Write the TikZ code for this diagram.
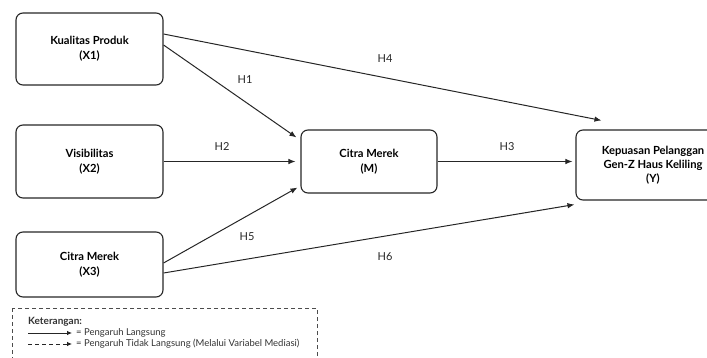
\documentclass[tikz,border=0pt]{standalone}
\usepackage{fontspec}
\setmainfont{Lato}
\usetikzlibrary{arrows.meta}

\begin{document}
\begin{tikzpicture}[x=1pt,y=-1pt,
    varbox/.style={draw=black!85,line width=1.1pt,rounded corners=7pt,align=center,
      inner sep=0pt,font=\fontsize{11.2}{15}\selectfont\bfseries},
    link/.style={draw=black!85,line width=1pt,-{Latex[length=7pt,width=5.5pt]}},
    hlabel/.style={font=\fontsize{11}{12}\selectfont,text=black!85},
    legendtext/.style={anchor=west,inner sep=0pt,font=\fontsize{9.5}{11}\selectfont,text=black!80}]

  \useasboundingbox (0,0) rectangle (707,358);
  \clip (0,0) rectangle (707,358);

  % Independent variables
  \node[varbox,minimum width=147pt,minimum height=72pt] (x1) at (89.5,49)    {Kualitas Produk\\(X1)};
  \node[varbox,minimum width=147pt,minimum height=73pt] (x2) at (89.5,161.5) {Visibilitas\\(X2)};
  \node[varbox,minimum width=147pt,minimum height=65pt] (x3) at (89.5,264.5) {Citra Merek\\(X3)};

  % Mediator
  \node[varbox,minimum width=136pt,minimum height=63pt] (m) at (369,161.5) {Citra Merek\\(M)};

  % Dependent variable
  \node[varbox,minimum width=154pt,minimum height=70pt,font=\fontsize{11.2}{14}\selectfont\bfseries] (y) at (653,165)
    {Kepuasan Pelanggan\\Gen-Z Haus Keliling\\(Y)};

  % Arrow end points
  \coordinate (x1a) at ([yshift=15pt]x1.east);
  \coordinate (x1b) at ([yshift=4pt]x1.east);
  \coordinate (x3a) at ([yshift=1.5pt]x3.east);
  \coordinate (x3b) at ([yshift=-8.5pt]x3.east);
  \coordinate (mtop) at ([xshift=-4pt,yshift=-8pt]m.north west);
  \coordinate (mbot) at ([xshift=-3pt,yshift=6pt]m.south west);
  \coordinate (ytop) at ([xshift=26pt,yshift=9pt]y.north west);
  \coordinate (ybot) at ([xshift=-1pt,yshift=-4pt]y.south west);

  % Direct paths
  \draw[link] (x1b) -- (mtop);
  \draw[link,shorten >=5pt] (x2.east) -- (m.west);
  \draw[link] (x3a) -- (mbot);
  \draw[link,shorten >=3pt] (m.east) -- (m.east -| y.west);
  \draw[link] (x1a) -- (ytop);
  \draw[link] (x3b) -- (ybot);

  % Hypothesis labels
  \node[hlabel] (h1) at (245,80)  {H1};
  \node[hlabel] (h2) at (222,147) {H2};
  \node[hlabel] (h3) at (507,147) {H3};
  \node[hlabel] (h4) at (385,59)  {H4};
  \node[hlabel] (h5) at (247,237) {H5};
  \node[hlabel] (h6) at (385,257) {H6};

  % Legend
  \draw[draw=black!70,line width=0.7pt,dash pattern=on 4pt off 3pt] (12,308) rectangle (317,372);
  \node[legendtext,font=\fontsize{10}{11}\selectfont\bfseries] (ket) at (28,322) {Keterangan:};
  \coordinate (la1) at (28,333);
  \coordinate (lb1) at (72,333);
  \coordinate (la2) at (28,344);
  \coordinate (lb2) at (72,344);
  \draw[draw=black!85,line width=0.8pt,-{Latex[length=5pt,width=4.5pt]}] (la1) -- (lb1);
  \draw[draw=black!85,line width=0.8pt,dash pattern=on 4pt off 3pt,-{Latex[length=5pt,width=4.5pt]}] (la2) -- (lb2);
  \node[legendtext] (lt1) at (76,333) {= Pengaruh Langsung};
  \node[legendtext] (lt2) at (76,344) {= Pengaruh Tidak Langsung (Melalui Variabel Mediasi)};

\end{tikzpicture}
\end{document}
